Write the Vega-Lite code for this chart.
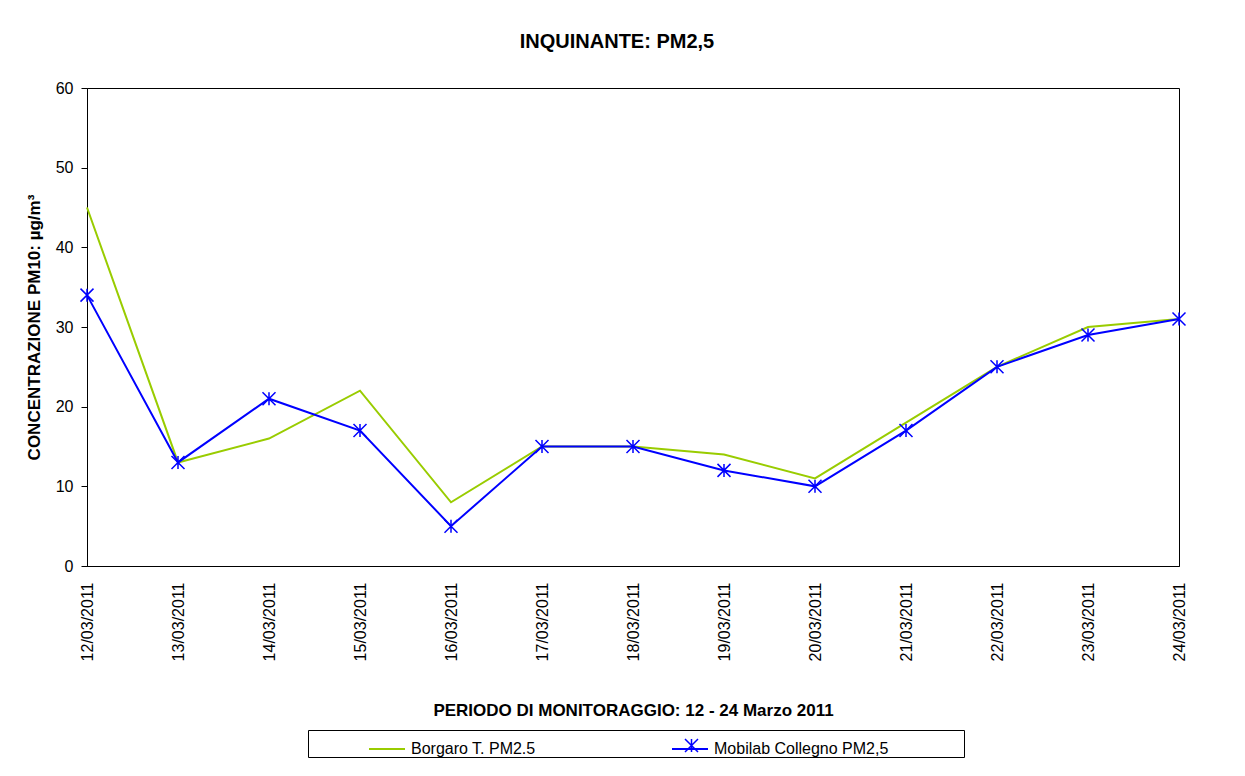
{
  "$schema": "https://vega.github.io/schema/vega-lite/v6.json",
  "autosize": "none",
  "width": 1092,
  "height": 478,
  "padding": {"left": 87, "top": 88, "right": 66, "bottom": 210},
  "background": "white",
  "title": {
    "text": "INQUINANTE: PM2,5",
    "font": "Liberation Sans",
    "fontSize": 20,
    "fontWeight": "bold",
    "color": "black",
    "anchor": "middle",
    "offset": 28,
    "dx": -16
  },
  "data": {
    "values": [
      {"date": "12/03/2011", "series": "Borgaro T. PM2.5", "value": 45},
      {"date": "13/03/2011", "series": "Borgaro T. PM2.5", "value": 13},
      {"date": "14/03/2011", "series": "Borgaro T. PM2.5", "value": 16},
      {"date": "15/03/2011", "series": "Borgaro T. PM2.5", "value": 22},
      {"date": "16/03/2011", "series": "Borgaro T. PM2.5", "value": 8},
      {"date": "17/03/2011", "series": "Borgaro T. PM2.5", "value": 15},
      {"date": "18/03/2011", "series": "Borgaro T. PM2.5", "value": 15},
      {"date": "19/03/2011", "series": "Borgaro T. PM2.5", "value": 14},
      {"date": "20/03/2011", "series": "Borgaro T. PM2.5", "value": 11},
      {"date": "21/03/2011", "series": "Borgaro T. PM2.5", "value": 18},
      {"date": "22/03/2011", "series": "Borgaro T. PM2.5", "value": 25},
      {"date": "23/03/2011", "series": "Borgaro T. PM2.5", "value": 30},
      {"date": "24/03/2011", "series": "Borgaro T. PM2.5", "value": 31},
      {"date": "12/03/2011", "series": "Mobilab Collegno PM2,5", "value": 34},
      {"date": "13/03/2011", "series": "Mobilab Collegno PM2,5", "value": 13},
      {"date": "14/03/2011", "series": "Mobilab Collegno PM2,5", "value": 21},
      {"date": "15/03/2011", "series": "Mobilab Collegno PM2,5", "value": 17},
      {"date": "16/03/2011", "series": "Mobilab Collegno PM2,5", "value": 5},
      {"date": "17/03/2011", "series": "Mobilab Collegno PM2,5", "value": 15},
      {"date": "18/03/2011", "series": "Mobilab Collegno PM2,5", "value": 15},
      {"date": "19/03/2011", "series": "Mobilab Collegno PM2,5", "value": 12},
      {"date": "20/03/2011", "series": "Mobilab Collegno PM2,5", "value": 10},
      {"date": "21/03/2011", "series": "Mobilab Collegno PM2,5", "value": 17},
      {"date": "22/03/2011", "series": "Mobilab Collegno PM2,5", "value": 25},
      {"date": "23/03/2011", "series": "Mobilab Collegno PM2,5", "value": 29},
      {"date": "24/03/2011", "series": "Mobilab Collegno PM2,5", "value": 31}
    ]
  },
  "encoding": {
    "x": {
      "field": "date",
      "type": "nominal",
      "sort": null,
      "scale": {"type": "point", "padding": 0},
      "axis": {
        "title": "PERIODO DI MONITORAGGIO: 12 - 24 Marzo 2011",
        "labelAngle": 270,
        "ticks": false,
        "labelPadding": 16,
        "labelFontSize": 16,
        "titleFontSize": 17,
        "titleFontWeight": "bold",
        "titlePadding": 42,
        "grid": false
      }
    },
    "y": {
      "field": "value",
      "type": "quantitative",
      "scale": {"domain": [0, 60], "nice": false},
      "axis": {
        "title": "CONCENTRAZIONE PM10: µg/m³",
        "values": [0, 10, 20, 30, 40, 50, 60],
        "grid": false,
        "tickSize": 6,
        "labelPadding": 8,
        "labelFontSize": 16,
        "titleFontSize": 17,
        "titleFontWeight": "bold",
        "titlePadding": 12
      }
    }
  },
  "layer": [
    {
      "mark": {"type": "line", "strokeWidth": 2},
      "encoding": {
        "color": {
          "field": "series",
          "type": "nominal",
          "scale": {
            "domain": ["Borgaro T. PM2.5", "Mobilab Collegno PM2,5"],
            "range": ["#99CC00", "#0000FF"]
          },
          "legend": {
            "orient": "none",
            "legendX": 221,
            "legendY": 642,
            "direction": "horizontal",
            "title": " ",
            "titleOrient": "left",
            "titlePadding": 60,
            "symbolType": "stroke",
            "symbolSize": 1296,
            "symbolStrokeWidth": 2,
            "labelFontSize": 16,
            "labelOffset": 5,
            "labelLimit": 500,
            "columnPadding": 132,
            "padding": 0,
            "strokeColor": "black",
            "fillColor": "white",
            "labelExpr": "datum.label == 'Mobilab Collegno PM2,5' ? datum.label + '\u2003\u2003\u2003\u2003\u2002\u2009\u200b' : datum.label"
          }
        }
      }
    },
    {
      "transform": [{"filter": "datum.series == 'Mobilab Collegno PM2,5'"}],
      "mark": {"type": "point", "filled": false, "stroke": "#0000FF", "strokeWidth": 1.5, "size": 169, "opacity": 1},
      "encoding": {
        "shape": {
          "field": "series",
          "type": "nominal",
          "scale": {
            "domain": ["Mobilab Collegno PM2,5"],
            "range": ["M0,-1L0,1M-1,-1L1,1M-1,1L1,-1"]
          },
          "legend": {
            "orient": "none",
            "legendX": 597,
            "legendY": 650,
            "title": null,
            "labelExpr": "''",
            "symbolSize": 169,
            "symbolStrokeColor": "#0000FF",
            "symbolStrokeWidth": 1.5,
            "symbolFillColor": "transparent",
            "padding": 0,
            "labelFontSize": 1
          }
        }
      }
    }
  ],
  "config": {
    "font": "Liberation Sans",
    "view": {"stroke": "black", "strokeWidth": 1},
    "axis": {
      "domainColor": "black",
      "tickColor": "black",
      "labelColor": "black",
      "titleColor": "black",
      "labelFont": "Liberation Sans",
      "titleFont": "Liberation Sans"
    },
    "legend": {"labelFont": "Liberation Sans", "labelColor": "black"}
  }
}
